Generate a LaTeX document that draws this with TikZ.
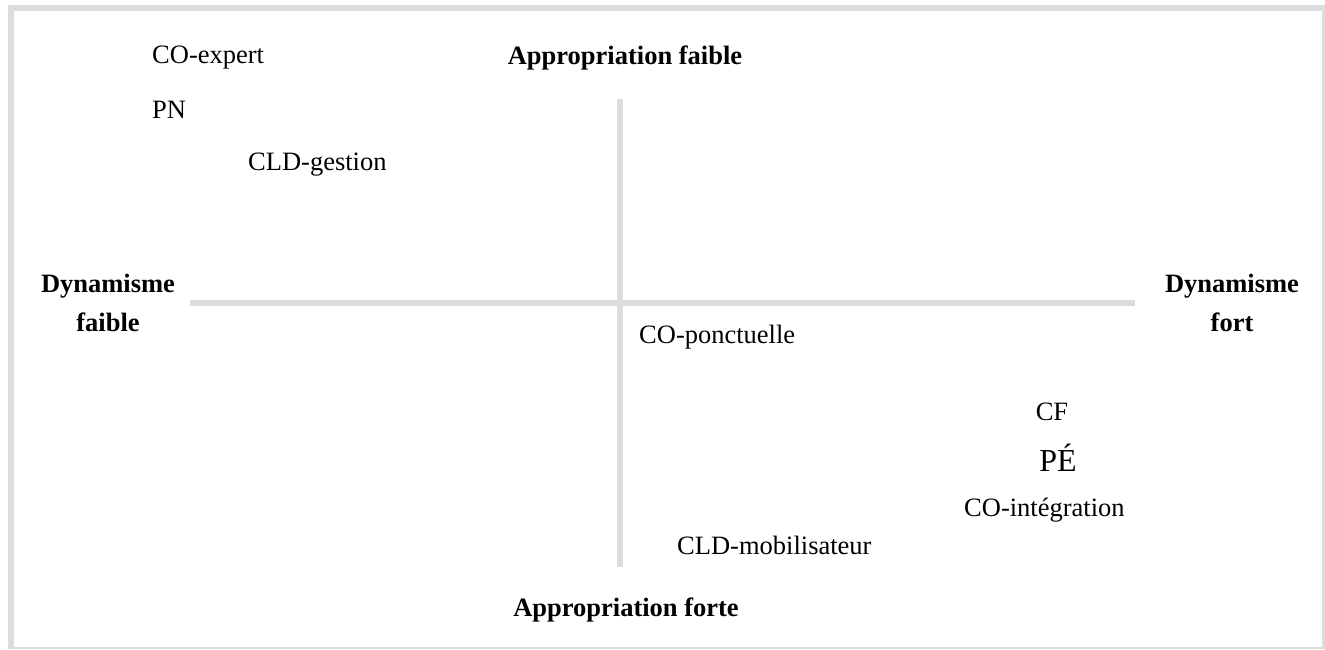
\documentclass[tikz,border=0pt]{standalone}
\usepackage{fontspec}
\setmainfont{Liberation Serif}
\definecolor{framegray}{HTML}{DDDDDD}
\definecolor{axisgray}{HTML}{DCDCDC}
\tikzset{
  lbl/.style={inner sep=0pt, anchor=base, font=\fontsize{26.5}{31}\selectfont},
  axlbl/.style={lbl, font=\fontsize{26.5}{39}\selectfont\bfseries, align=center},
  axisline/.style={draw=axisgray, line width=6pt}
}
\begin{document}
\begin{tikzpicture}[x=1pt,y=-1pt]
\useasboundingbox (0,0) rectangle (1325,649);
% frame
\fill[framegray] (8,5) rectangle (1325,649);
\fill[white] (14,11) rectangle (1322,647);
% axes
\coordinate (vtop) at (620,99);
\coordinate (vbot) at (620,567);
\coordinate (hleft) at (190,303);
\coordinate (hright) at (1135,303);
\draw[axisline] (vtop) -- (vbot);
\draw[axisline] (hleft) -- (hright);
% axis labels
\node[axlbl] (af) at (625,64) {Appropriation faible};
\node[axlbl] (afo) at (626,616) {Appropriation forte};
\node[axlbl] (df) at (108,331) {Dynamisme\\faible};
\node[axlbl] (dfo) at (1232,331) {Dynamisme\\fort};
% items
\node[lbl, anchor=base west] (coexp) at (152,63) {CO-expert};
\node[lbl, anchor=base west] (pn) at (152,118) {PN};
\node[lbl, anchor=base west] (cldg) at (248,170) {CLD-gestion};
\node[lbl, anchor=base west] (copon) at (639,343) {CO-ponctuelle};
\node[lbl] (cf) at (1052,420) {CF};
\node[lbl, font=\fontsize{32}{38}\selectfont] (pe) at (1058,471) {PÉ};
\node[lbl, anchor=base west] (coint) at (964,516) {CO-intégration};
\node[lbl, anchor=base west] (cldm) at (677,554) {CLD-mobilisateur};
\end{tikzpicture}
\end{document}
